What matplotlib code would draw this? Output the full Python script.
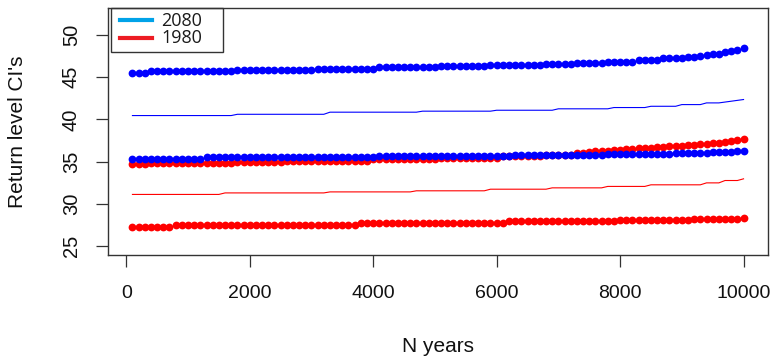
import matplotlib
matplotlib.use("Agg")
import matplotlib.pyplot as plt
from matplotlib.lines import Line2D
from matplotlib.patches import Rectangle

# N years: 100, 200, ..., 10000
n_years = list(range(100, 10001, 100))

# 2080 (blue): upper CI dots, estimate line, lower CI dots
blue_upper = [
    45.55, 45.55, 45.55, 45.7, 45.7, 45.7, 45.7, 45.7, 45.7, 45.7,
    45.7, 45.7, 45.7, 45.7, 45.7, 45.7, 45.7, 45.85, 45.85, 45.85,
    45.85, 45.85, 45.85, 45.85, 45.85, 45.85, 45.85, 45.85, 45.85, 45.85,
    46.0, 46.0, 46.0, 46.0, 46.0, 46.0, 46.0, 46.0, 46.0, 46.0,
    46.15, 46.15, 46.15, 46.15, 46.15, 46.15, 46.15, 46.15, 46.15, 46.15,
    46.35, 46.35, 46.35, 46.35, 46.35, 46.35, 46.35, 46.35, 46.5, 46.5,
    46.5, 46.5, 46.5, 46.5, 46.5, 46.5, 46.5, 46.6, 46.6, 46.6,
    46.6, 46.6, 46.7, 46.7, 46.7, 46.7, 46.7, 46.85, 46.85, 46.85,
    46.85, 46.85, 47.05, 47.05, 47.05, 47.05, 47.25, 47.25, 47.25, 47.3,
    47.4, 47.45, 47.5, 47.6, 47.7, 47.8, 47.95, 48.05, 48.2, 48.4,
]
blue_mid = [
    40.45, 40.45, 40.45, 40.45, 40.45, 40.45, 40.45, 40.45, 40.45, 40.45,
    40.45, 40.45, 40.45, 40.45, 40.45, 40.45, 40.45, 40.6, 40.6, 40.6,
    40.6, 40.6, 40.6, 40.6, 40.6, 40.6, 40.6, 40.6, 40.6, 40.6,
    40.6, 40.6, 40.85, 40.85, 40.85, 40.85, 40.85, 40.85, 40.85, 40.85,
    40.85, 40.85, 40.85, 40.85, 40.85, 40.85, 40.85, 40.97, 40.97, 40.97,
    40.97, 40.97, 40.97, 40.97, 40.97, 40.97, 40.97, 40.97, 40.97, 41.08,
    41.08, 41.08, 41.08, 41.08, 41.08, 41.08, 41.08, 41.08, 41.08, 41.25,
    41.25, 41.25, 41.25, 41.25, 41.25, 41.25, 41.25, 41.25, 41.4, 41.4,
    41.4, 41.4, 41.4, 41.4, 41.55, 41.55, 41.55, 41.55, 41.55, 41.75,
    41.75, 41.75, 41.75, 41.95, 41.95, 41.95, 42.05, 42.15, 42.25, 42.35,
]
blue_lower = [
    35.35, 35.35, 35.35, 35.35, 35.35, 35.35, 35.35, 35.35, 35.35, 35.35,
    35.35, 35.35, 35.55, 35.55, 35.55, 35.55, 35.55, 35.55, 35.55, 35.55,
    35.55, 35.55, 35.55, 35.55, 35.55, 35.55, 35.55, 35.55, 35.55, 35.55,
    35.55, 35.55, 35.55, 35.55, 35.55, 35.55, 35.55, 35.55, 35.55, 35.55,
    35.7, 35.7, 35.7, 35.7, 35.7, 35.7, 35.7, 35.7, 35.7, 35.7,
    35.7, 35.7, 35.7, 35.7, 35.7, 35.7, 35.7, 35.7, 35.7, 35.7,
    35.7, 35.7, 35.82, 35.82, 35.82, 35.82, 35.82, 35.82, 35.82, 35.82,
    35.82, 35.82, 35.82, 35.82, 35.82, 35.82, 35.82, 35.95, 35.95, 35.95,
    35.95, 35.95, 35.95, 35.95, 35.95, 35.95, 35.95, 35.95, 36.05, 36.05,
    36.05, 36.05, 36.05, 36.05, 36.15, 36.15, 36.15, 36.15, 36.25, 36.3,
]

# 1980 (red): upper CI dots, estimate line, lower CI dots
red_upper = [
    34.65, 34.65, 34.65, 34.78, 34.78, 34.78, 34.78, 34.78, 34.78, 34.78,
    34.78, 34.78, 34.78, 34.78, 34.78, 34.78, 34.78, 34.9, 34.9, 34.9,
    34.9, 34.9, 34.9, 34.9, 34.9, 35.1, 35.1, 35.1, 35.1, 35.1,
    35.1, 35.1, 35.1, 35.1, 35.1, 35.1, 35.1, 35.1, 35.1, 35.3,
    35.3, 35.3, 35.3, 35.3, 35.3, 35.3, 35.3, 35.3, 35.3, 35.3,
    35.45, 35.45, 35.45, 35.45, 35.45, 35.45, 35.45, 35.45, 35.45, 35.45,
    35.6, 35.6, 35.6, 35.6, 35.6, 35.6, 35.6, 35.8, 35.8, 35.8,
    35.8, 35.8, 36.0, 36.05, 36.1, 36.2, 36.25, 36.3, 36.35, 36.4,
    36.45, 36.5, 36.55, 36.6, 36.65, 36.7, 36.75, 36.8, 36.85, 36.9,
    36.95, 37.0, 37.05, 37.1, 37.15, 37.25, 37.3, 37.4, 37.5, 37.7,
]
red_mid = [
    31.1, 31.1, 31.1, 31.1, 31.1, 31.1, 31.1, 31.1, 31.1, 31.1,
    31.1, 31.1, 31.1, 31.1, 31.1, 31.28, 31.28, 31.28, 31.28, 31.28,
    31.28, 31.28, 31.28, 31.28, 31.28, 31.28, 31.28, 31.28, 31.28, 31.28,
    31.28, 31.28, 31.4, 31.4, 31.4, 31.4, 31.4, 31.4, 31.4, 31.4,
    31.4, 31.4, 31.4, 31.4, 31.4, 31.4, 31.53, 31.53, 31.53, 31.53,
    31.53, 31.53, 31.53, 31.53, 31.53, 31.53, 31.53, 31.53, 31.72, 31.72,
    31.72, 31.72, 31.72, 31.72, 31.72, 31.72, 31.72, 31.72, 31.88, 31.88,
    31.88, 31.88, 31.88, 31.88, 31.88, 31.88, 31.88, 32.05, 32.05, 32.05,
    32.05, 32.05, 32.05, 32.05, 32.24, 32.24, 32.24, 32.24, 32.24, 32.24,
    32.24, 32.24, 32.24, 32.47, 32.47, 32.47, 32.75, 32.75, 32.75, 32.95,
]
red_lower = [
    27.28, 27.28, 27.28, 27.28, 27.28, 27.28, 27.28, 27.5, 27.5, 27.5,
    27.5, 27.5, 27.5, 27.5, 27.5, 27.5, 27.5, 27.5, 27.5, 27.5,
    27.5, 27.5, 27.5, 27.5, 27.5, 27.5, 27.5, 27.5, 27.5, 27.5,
    27.5, 27.5, 27.5, 27.5, 27.5, 27.5, 27.5, 27.75, 27.75, 27.75,
    27.75, 27.75, 27.75, 27.75, 27.75, 27.75, 27.75, 27.75, 27.75, 27.75,
    27.75, 27.75, 27.75, 27.75, 27.75, 27.75, 27.75, 27.75, 27.75, 27.75,
    27.75, 27.9, 27.9, 27.9, 27.9, 27.9, 27.9, 27.9, 27.9, 27.9,
    27.9, 27.9, 27.9, 27.9, 27.9, 27.9, 27.9, 27.9, 27.9, 28.05,
    28.05, 28.05, 28.05, 28.05, 28.05, 28.05, 28.05, 28.05, 28.05, 28.05,
    28.05, 28.2, 28.2, 28.2, 28.2, 28.2, 28.2, 28.2, 28.2, 28.3,
]

legend_labels = ["2080", "1980"]
legend_colors = ["#00a2e8", "#ed1c24"]
x_ticks = [0, 2000, 4000, 6000, 8000, 10000]
y_ticks = [25, 30, 35, 40, 45, 50]

plt.rcParams["font.family"] = ["Liberation Sans", "DejaVu Sans"]

W, H = 774, 357
fig = plt.figure(figsize=(W / 100, H / 100), dpi=100)
ax = fig.add_axes([108 / W, 1 - 255 / H, 660 / W, 247 / H])

# red first, blue on top
ms = 5.6
ax.plot(n_years, red_upper, "o", color="red", ms=ms, mew=0)
ax.plot(n_years, red_mid, "-", color="red", lw=0.8)
ax.plot(n_years, red_lower, "o", color="red", ms=ms, mew=0)
ax.plot(n_years, blue_upper, "o", color="blue", ms=ms, mew=0)
ax.plot(n_years, blue_mid, "-", color="blue", lw=0.8)
ax.plot(n_years, blue_lower, "o", color="blue", ms=ms, mew=0)

ax.set_xlim(-296, 10396)
ax.set_ylim(23.92, 53.2)
ax.set_xticks(x_ticks)
ax.set_yticks(y_ticks)
ax.set_xticklabels([str(t) for t in x_ticks], fontsize=14, color="#111111")
ax.set_yticklabels([str(t) for t in y_ticks], fontsize=14.5, rotation=90, va="center", color="#111111")
ax.tick_params(axis="both", length=8.6, width=0.9, color="#333333")
ax.tick_params(axis="x", pad=13)
ax.tick_params(axis="y", pad=11)
for s in ax.spines.values():
    s.set_linewidth(1.0)
    s.set_color("#333333")

ax.set_xlabel("N years", fontsize=15, color="#111111")
ax.xaxis.label.set_va("center")
ax.xaxis.set_label_coords(0.5, (255 - 347) / 247)
ax.set_ylabel("Return level CI's", fontsize=15, color="#111111")
ax.yaxis.label.set_va("center")
ax.yaxis.set_label_coords((18 - 108) / 660, 0.5)

# legend box drawn in pixel coordinates of the figure
def px(x, y):
    return x / W, 1 - y / H

fig.add_artist(Rectangle(px(110.7, 52), 112.3 / W, 44 / H, transform=fig.transFigure,
                         fill=False, edgecolor="#333333", lw=1.0))
for i, (lab, col) in enumerate(zip(legend_labels, legend_colors)):
    yy = 20 + i * 17.5
    x0, y0 = px(119.7, yy)
    x1, _ = px(152.3, yy)
    fig.add_artist(Line2D([x0, x1], [y0, y0], transform=fig.transFigure, color=col, lw=3.0))
    tx, ty = px(161, yy + 0.5)
    fig.text(tx, ty, lab, fontfamily=["Open Sans", "DejaVu Sans"], fontsize=13,
             color="#1a1a1a", va="center", ha="left")

fig.savefig("out.png", dpi=100)
